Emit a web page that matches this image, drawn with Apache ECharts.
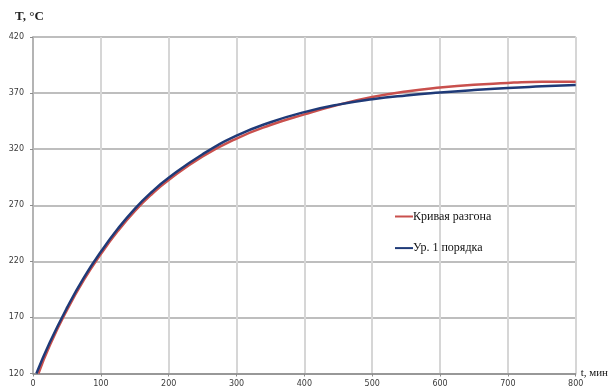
<!DOCTYPE html>
<html>
<head>
<meta charset="utf-8">
<script src="https://cdn.jsdelivr.net/npm/echarts@6/dist/echarts.min.js"></script>
<style>html,body{margin:0;padding:0;background:#fff}#c{width:611px;height:389px}</style>
</head>
<body>
<div id="c"></div>
<script>
// Time points (min) and temperatures (°C)
var redT   = [8, 25, 50, 75, 100, 125, 150, 175, 200, 250, 300, 350, 400, 450, 500, 550, 600, 650, 700, 720, 750, 800];
var redV   = [120, 145.5, 176.5, 203.5, 226.5, 247, 264.8, 279.8, 292.5, 313.5, 329.5, 341.5, 351, 359.5, 366.5, 371.5, 375, 377.5, 379, 379.7, 380, 380];
var blueT  = [5, 25, 50, 75, 100, 125, 150, 175, 200, 250, 300, 350, 400, 450, 500, 550, 600, 650, 700, 750, 800];
var blueV  = [120, 148, 178.5, 205.5, 228.5, 249, 266.8, 281.8, 294.5, 315.5, 332, 344, 353, 359.7, 364.5, 367.9, 370.5, 372.7, 374.6, 376, 377.3];
var seriesNames = ['Кривая разгона', 'Ур. 1 порядка'];
var yTicks = [120, 170, 220, 270, 320, 370, 420];
var xTicks = [0, 100, 200, 300, 400, 500, 600, 700, 800];

function pairs(t, v) { return t.map(function (x, i) { return [x, v[i]]; }); }

var chart = echarts.init(document.getElementById('c'), null, { renderer: 'canvas' });
var labelFont = { fontFamily: 'DejaVu Sans', fontSize: 8, color: '#3a3a3a' };
chart.setOption({
  animation: false,
  backgroundColor: '#ffffff',
  title: {
    text: 'T, °C', left: 10, top: 5,
    textStyle: { fontFamily: 'Liberation Serif', fontSize: 13, fontWeight: 'bold', color: '#222' }
  },
  legend: {
    orient: 'vertical', left: 390, top: 204.5,
    itemWidth: 18, itemHeight: 2, itemGap: 17.6,
    icon: 'rect',
    textStyle: { fontFamily: 'Liberation Serif', fontSize: 12, color: '#111', lineHeight: 14, padding: [0, 0, 0, -5] },
    data: seriesNames
  },
  grid: { left: 33, right: 33, top: 37, bottom: 15.5, containLabel: false },
  xAxis: {
    type: 'value', min: 0, max: 800, interval: 100,
    name: 't, мин', nameLocation: 'end', nameGap: 5,
    nameTextStyle: { fontFamily: 'Liberation Serif', fontSize: 11, color: '#111', verticalAlign: 'middle' },
    axisLine: { show: true, lineStyle: { color: '#8c8c8c', width: 1.5 } },
    axisTick: { show: true, length: 3, lineStyle: { color: '#8c8c8c' } },
    axisLabel: Object.assign({ margin: 6, customValues: xTicks }, labelFont),
    splitLine: { show: true, lineStyle: { color: '#d6d6d6', width: 2 } }
  },
  yAxis: {
    type: 'value', min: 120, max: 420,
    axisLine: { show: true, lineStyle: { color: '#b4b4b4', width: 2 } },
    axisTick: { show: true, length: 3, customValues: yTicks, lineStyle: { color: '#8c8c8c' } },
    axisLabel: Object.assign({ margin: 9, customValues: yTicks }, labelFont),
    splitLine: { show: true, lineStyle: { color: '#a8a8a8', width: 1.5 } }
  },
  series: [
    {
      name: seriesNames[0], type: 'line', smooth: true, showSymbol: false,
      data: pairs(redT, redV), color: '#c9504d',
      lineStyle: { width: 2.5, color: '#c9504d' }
    },
    {
      name: seriesNames[1], type: 'line', smooth: true, showSymbol: false,
      data: pairs(blueT, blueV), color: '#1f3a78',
      lineStyle: { width: 2.5, color: '#1f3a78' }
    }
  ]
});
</script>
</body>
</html>
